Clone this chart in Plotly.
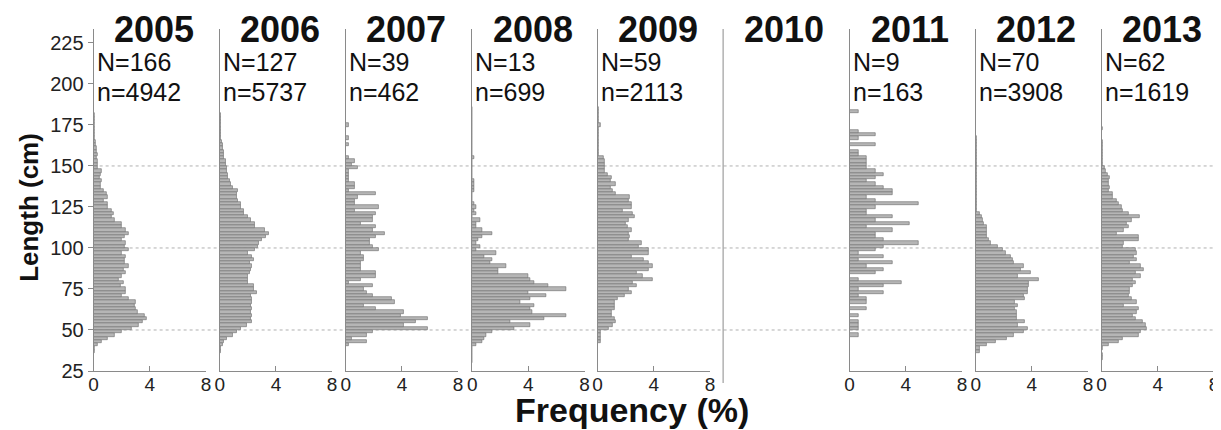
import plotly.graph_objects as go

# ---------------- data ----------------
years = ["2005", "2006", "2007", "2008", "2009", "2010", "2011", "2012", "2013"]
N_fish = [166, 127, 39, 13, 59, None, 9, 70, 62]
n_measured = [4942, 5737, 462, 699, 2113, None, 163, 3908, 1619]

length_mid = list(range(31, 187, 2))  # 2-cm length classes (cm), 31..185

freq_2005 = [0, 0, 0, 0.05, 0.1, 0.3, 0.6, 1.0, 1.5, 2.0, 2.7, 3.2, 3.5, 3.8, 3.6,
             3.1, 3.0, 2.9, 3.0, 2.5, 2.0, 2.3, 2.3, 1.9, 2.1, 1.8, 2.0, 2.3, 2.1, 2.5,
             2.2, 2.2, 2.3, 2.0, 2.5, 2.2, 2.3, 2.0, 2.2, 2.5, 2.3, 2.0, 2.0, 1.5, 1.3,
             1.4, 1.3, 1.0, 1.0, 0.7, 1.0, 0.9, 0.7, 0.5, 0.5, 0.6, 0.4, 0.5, 0.6, 0.3,
             0.3, 0.3, 0.2, 0.3, 0.2, 0.2, 0.15, 0.15, 0.1, 0.1, 0.1, 0.1, 0.05, 0.05, 0.05,
             0.05, 0.02, 0.02]
freq_2006 = [0, 0, 0, 0.05, 0.1, 0.2, 0.3, 0.5, 0.9, 1.2, 1.5, 1.9, 2.3, 2.2, 2.3,
             2.2, 2.3, 2.2, 2.3, 2.3, 2.2, 2.6, 2.4, 2.4, 2.0, 2.0, 2.0, 2.1, 2.2, 2.3,
             2.1, 2.4, 2.3, 2.0, 2.5, 2.7, 2.8, 3.0, 3.3, 3.5, 3.2, 2.5, 2.5, 2.2, 2.0,
             1.7, 1.7, 1.5, 1.5, 1.3, 1.2, 1.2, 1.3, 0.9, 0.8, 0.7, 0.6, 0.6, 0.5, 0.5,
             0.4, 0.4, 0.3, 0.3, 0.3, 0.2, 0.2, 0.15, 0.1, 0.1, 0.1, 0.1, 0.05, 0.05, 0.05,
             0.05, 0.02, 0.02]
freq_2007 = [0, 0, 0, 0, 0, 0.22, 1.52, 0.43, 1.52, 1.95, 5.84, 4.11, 5.0, 5.84, 3.90,
             4.11, 2.16, 1.30, 3.46, 3.25, 1.95, 1.52, 1.30, 1.95, 0.22, 1.08, 2.16, 2.16, 1.08, 1.08,
             1.08, 1.30, 1.30, 1.08, 2.38, 1.95, 1.73, 1.73, 2.16, 2.81, 1.95, 2.16, 1.08, 1.95, 1.95,
             2.16, 0.65, 2.38, 0.65, 0.65, 0.87, 2.16, 0.22, 0.65, 0.65, 0.22, 0.22, 0.22, 0.22, 0.87,
             0.43, 0.65, 0.22, 0, 0, 0, 0.22, 0, 0.22, 0, 0, 0, 0.22, 0, 0,
             0, 0, 0]
freq_2008 = [0, 0, 0, 0, 0, 0.29, 0.72, 0.86, 1.0, 1.43, 3.0, 4.15, 2.72, 5.15, 6.72,
             4.29, 4.15, 4.43, 3.43, 4.15, 5.29, 4.01, 6.72, 5.44, 4.43, 4.15, 4.0, 1.86, 1.86, 2.43,
             1.29, 1.43, 0.86, 1.72, 0.29, 0.57, 0.29, 0.43, 0.72, 1.43, 0.72, 0.29, 0.29, 0.57, 0,
             0.29, 0.14, 0.29, 0.14, 0, 0, 0, 0.14, 0.14, 0.14, 0.14, 0, 0, 0, 0,
             0, 0, 0.14, 0, 0, 0, 0, 0, 0, 0, 0, 0, 0, 0, 0,
             0, 0, 0]
freq_2009 = [0, 0, 0, 0, 0, 0, 0.2, 0.2, 0.2, 0.2, 0.8, 1.1, 1.3, 1.2, 1.0,
             1.0, 1.2, 1.2, 1.2, 1.4, 1.9, 2.4, 2.2, 2.8, 2.5, 3.9, 3.2, 2.8, 3.6, 3.9,
             3.6, 3.3, 2.4, 3.6, 3.6, 2.9, 3.1, 2.2, 2.3, 2.2, 2.4, 2.1, 2.0, 2.2, 2.6,
             2.5, 1.8, 2.4, 2.4, 2.2, 2.3, 1.3, 1.1, 0.9, 1.3, 0.9, 1.0, 0.7, 0.5, 0.5,
             0.5, 0.5, 0.4, 0.1, 0.05, 0.05, 0.05, 0.05, 0.05, 0.05, 0.05, 0.05, 0.2, 0.1, 0.05,
             0.05, 0.05, 0.05]
freq_2010 = []
freq_2011 = [0, 0, 0, 0, 0, 0, 0, 0, 0.61, 0, 0.61, 0.61, 0.61, 0, 0.61,
             0, 1.23, 0, 1.23, 1.23, 0.61, 2.45, 0.61, 2.45, 3.68, 0.61, 0, 1.84, 2.45, 1.23,
             3.07, 0.61, 2.45, 0.61, 1.84, 2.45, 4.91, 2.45, 1.84, 1.84, 3.07, 1.23, 4.29, 1.84, 3.07,
             1.23, 1.23, 1.84, 4.91, 1.84, 1.23, 3.07, 3.07, 2.45, 1.84, 1.23, 1.84, 2.45, 1.84, 1.23,
             1.23, 1.23, 1.23, 0.61, 0.61, 0, 1.84, 0, 0.61, 1.84, 0.61, 0, 0, 0, 0,
             0, 0.61, 0]
freq_2012 = [0, 0, 0, 0.3, 0.3, 0.8, 1.4, 2.2, 2.7, 3.4, 3.7, 3.0, 3.5, 2.9, 2.9,
             2.9, 2.8, 3.0, 2.8, 3.5, 3.4, 3.7, 3.7, 3.8, 3.8, 4.5, 3.0, 3.9, 3.2, 3.4,
             2.7, 2.6, 2.5, 2.1, 1.9, 1.6, 1.1, 0.9, 0.8, 0.8, 0.8, 0.8, 0.6, 0.5, 0.4,
             0.3, 0.1, 0.1, 0.08, 0.08, 0.08, 0.05, 0.05, 0.05, 0.05, 0.05, 0.05, 0.05, 0.05, 0.05,
             0.05, 0.05, 0.05, 0.05, 0.05, 0.05, 0.05, 0.05, 0.05, 0, 0, 0, 0, 0, 0,
             0, 0, 0]
freq_2013 = [0, 0.06, 0.06, 0, 0.1, 0.5, 1.2, 1.5, 2.6, 2.8, 3.2, 3.1, 2.9, 2.4, 2.2,
             2.5, 2.6, 1.6, 2.5, 2.1, 1.9, 2.0, 2.0, 2.2, 2.4, 2.2, 2.8, 2.4, 3.0, 2.8,
             2.0, 2.5, 2.3, 2.5, 2.4, 1.5, 1.6, 2.6, 2.6, 1.1, 1.6, 1.9, 1.8, 2.1, 2.7,
             1.9, 1.5, 1.4, 1.2, 1.1, 0.8, 0.8, 0.5, 0.6, 0.5, 0.5, 0.6, 0.4, 0.3, 0.2,
             0.1, 0.06, 0.06, 0.06, 0.06, 0.06, 0.06, 0.06, 0, 0, 0, 0.06, 0, 0, 0,
             0, 0, 0]

series = [freq_2005, freq_2006, freq_2007, freq_2008, freq_2009, freq_2010,
          freq_2011, freq_2012, freq_2013]

x_ticks = [0, 4, 8]
y_ticks = [25, 50, 75, 100, 125, 150, 175, 200, 225]
ref_lines = [50, 100, 150]

# ---------------- layout geometry (reference pixel coords) ----------------
PAGE_W, PAGE_H = 1221, 430
OFF = 8                          # default page margin around the plot div
W, H = PAGE_W - OFF, PAGE_H - OFF
TOP, BOTTOM = 29, 371            # page pixel rows: plot-area top / x-axis
panel_left = [89.3, 216.5, 343.5, 471.0, 597.5, 724.0, 851.5, 978.7, 1105.7]
panel_w = 113.3
FONT = "Liberation Sans, Arial, sans-serif"
AXC = "#8a8a8a"


def px(p):  # page pixel column -> paper x
    return (p - OFF) / W


def py(p):  # page pixel row -> paper y
    return (BOTTOM - p) / (BOTTOM - TOP)


fig = go.Figure()
layout = dict(
    width=W, height=H,
    margin=dict(l=0, r=0, t=TOP - OFF, b=PAGE_H - BOTTOM, pad=0),
    paper_bgcolor="white", plot_bgcolor="rgba(0,0,0,0)",
    showlegend=False, bargap=0,
    font=dict(family=FONT, color="#222"),
)

ax_i = 0
annotations = []
shapes = []
for k, yr in enumerate(years):
    x0 = px(panel_left[k])
    x1 = px(panel_left[k] + panel_w)
    annotations.append(dict(x=px(panel_left[k] + 61), y=py(29.7), xref="paper", yref="paper",
                            text="<b>%s</b>" % yr, showarrow=False, xanchor="center",
                            yanchor="middle", font=dict(size=36, color="#111", family=FONT)))
    if not series[k]:
        shapes.append(dict(type="line", xref="paper", yref="paper", x0=x0, x1=x0,
                           y0=py(383), y1=1, line=dict(color=AXC, width=1)))
        continue
    ax_i += 1
    xs = "x" if ax_i == 1 else "x%d" % ax_i
    ys = "y" if ax_i == 1 else "y%d" % ax_i
    fig.add_trace(go.Bar(x=series[k], y=length_mid, orientation="h", width=2,
                         marker=dict(color="#b5b5b5", line=dict(color="#6a6a6a", width=0.6)),
                         xaxis=xs, yaxis=ys, hoverinfo="x+y"))
    xkey = "xaxis" if ax_i == 1 else "xaxis%d" % ax_i
    ykey = "yaxis" if ax_i == 1 else "yaxis%d" % ax_i
    layout[xkey] = dict(domain=[x0, x1], anchor=ys, range=[0, 8], tickvals=x_ticks,
                        ticks="inside", ticklen=5, tickcolor=AXC, showline=True,
                        linecolor=AXC, linewidth=1, showgrid=False, zeroline=False,
                        ticklabelstandoff=-4,
                        tickfont=dict(size=19, color="#222"), fixedrange=True)
    first = ax_i == 1
    layout[ykey] = dict(domain=[0, 1], anchor=xs, range=[25, 233.5], tickvals=y_ticks,
                        showticklabels=first, ticks="outside" if first else "",
                        ticklen=5, tickcolor=AXC, showline=True, linecolor=AXC,
                        linewidth=1, showgrid=False, zeroline=False,
                        tickfont=dict(size=20, color="#222"), fixedrange=True)
    if N_fish[k] is not None:
        annotations.append(dict(x=px(panel_left[k] + 1), y=py(62), xref="paper", yref="paper",
                                text="N=%d" % N_fish[k], showarrow=False, xanchor="left",
                                yanchor="middle", font=dict(size=25, color="#111", family=FONT)))
        annotations.append(dict(x=px(panel_left[k] + 1), y=py(92), xref="paper", yref="paper",
                                text="n=%d" % n_measured[k], showarrow=False, xanchor="left",
                                yanchor="middle", font=dict(size=25, color="#111", family=FONT)))

for v in ref_lines:
    shapes.append(dict(type="line", xref="paper", yref="y", x0=px(panel_left[0]), x1=1,
                       y0=v, y1=v, layer="below",
                       line=dict(color="#b0b0b0", width=1, dash="dot")))

annotations.append(dict(x=px(24), y=py(207), xref="paper", yref="paper",
                        text="<b>Length (cm)</b>", textangle=-90, showarrow=False,
                        xanchor="center", yanchor="middle",
                        font=dict(size=26, color="#111", family=FONT)))
annotations.append(dict(x=px(632), y=py(410), xref="paper", yref="paper",
                        text="<b>Frequency (%)</b>", showarrow=False,
                        xanchor="center", yanchor="middle",
                        font=dict(size=34, color="#111", family=FONT)))

layout["annotations"] = annotations
layout["shapes"] = shapes
fig.update_layout(**layout)
fig.write_html("out.html")
